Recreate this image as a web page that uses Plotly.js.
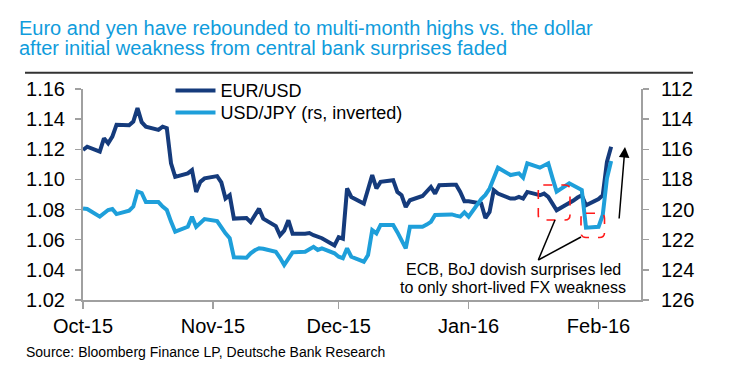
<!DOCTYPE html>
<html>
<head>
<meta charset="utf-8">
<script src="https://cdn.plot.ly/plotly-3.0.1.min.js"></script>
<style>
html,body{margin:0;padding:0;background:#fff;}
#chart{width:739px;height:384px;}
</style>
</head>
<body>
<div id="chart"></div>
<script>
// ---- Data ----
var eurDates = ['2015-10-01','2015-10-02','2015-10-05','2015-10-06','2015-10-07','2015-10-08','2015-10-09','2015-10-12','2015-10-13','2015-10-14','2015-10-15','2015-10-16','2015-10-19','2015-10-20','2015-10-21','2015-10-22','2015-10-23','2015-10-26','2015-10-27','2015-10-28','2015-10-29','2015-10-30',
'2015-11-02','2015-11-03','2015-11-04','2015-11-05','2015-11-06','2015-11-09','2015-11-10','2015-11-11','2015-11-12','2015-11-13','2015-11-16','2015-11-17','2015-11-18','2015-11-19','2015-11-20','2015-11-23','2015-11-24','2015-11-25','2015-11-26','2015-11-27','2015-11-30',
'2015-12-01','2015-12-02','2015-12-03','2015-12-04','2015-12-07','2015-12-09','2015-12-10','2015-12-11','2015-12-14','2015-12-15','2015-12-16','2015-12-17','2015-12-18','2015-12-21','2015-12-22','2015-12-23','2015-12-24','2015-12-25','2015-12-28','2015-12-29','2015-12-30','2015-12-31',
'2016-01-01','2016-01-04','2016-01-05','2016-01-06','2016-01-07','2016-01-08','2016-01-11','2016-01-12','2016-01-13','2016-01-14','2016-01-15','2016-01-18','2016-01-19','2016-01-20','2016-01-22','2016-01-25','2016-01-26','2016-01-27','2016-01-28','2016-01-29',
'2016-02-01','2016-02-02','2016-02-03','2016-02-04'];
var eurValues = [1.1195,1.1217,1.1184,1.1273,1.1240,1.1284,1.1362,1.1360,1.1384,1.1473,1.1380,1.1350,1.1329,1.1350,1.1340,1.1107,1.1017,1.1040,1.1062,1.0917,1.0984,1.1007,
1.1022,1.0980,1.0873,1.0895,1.0740,1.0744,1.0717,1.0760,1.0806,1.0740,1.0690,1.0629,1.0660,1.0729,1.0640,1.0640,1.0644,1.0630,1.0620,1.0610,1.0562,
1.0617,1.0607,1.0940,1.0884,1.0840,1.1029,1.0940,1.0984,1.0995,1.0917,1.0895,1.0817,1.0862,1.0890,1.0917,1.0950,1.0906,1.0962,1.0965,1.0965,1.0917,1.0855,
1.0855,1.0840,1.0744,1.0784,1.0929,1.0906,1.0873,1.0873,1.0884,1.0873,1.0917,1.0895,1.0906,1.0884,1.0795,1.0840,1.0860,1.0880,1.0895,1.0829,
1.0870,1.0895,1.1117,1.1217];

var jpyDates = ['2015-10-01','2015-10-02','2015-10-05','2015-10-07','2015-10-08','2015-10-09','2015-10-12','2015-10-13','2015-10-14','2015-10-15','2015-10-16','2015-10-19','2015-10-20','2015-10-21','2015-10-22','2015-10-23','2015-10-26','2015-10-27','2015-10-28','2015-10-30',
'2015-11-02','2015-11-03','2015-11-04','2015-11-05','2015-11-06','2015-11-09','2015-11-10','2015-11-11','2015-11-12','2015-11-13','2015-11-16','2015-11-17','2015-11-18','2015-11-20','2015-11-23','2015-11-25','2015-11-26','2015-11-27','2015-11-30',
'2015-12-01','2015-12-02','2015-12-03','2015-12-04','2015-12-07','2015-12-08','2015-12-09','2015-12-10','2015-12-11','2015-12-14','2015-12-15','2015-12-16','2015-12-17','2015-12-18','2015-12-21','2015-12-22','2015-12-23','2015-12-24','2015-12-25','2015-12-28','2015-12-29','2015-12-30','2015-12-31',
'2016-01-01','2016-01-04','2016-01-05','2016-01-06','2016-01-07','2016-01-08','2016-01-11','2016-01-12','2016-01-13','2016-01-14','2016-01-15','2016-01-18','2016-01-19','2016-01-20','2016-01-21','2016-01-22','2016-01-25','2016-01-26','2016-01-27','2016-01-28','2016-01-29',
'2016-02-01','2016-02-02','2016-02-03','2016-02-04'];
var jpyValues = [119.92,119.96,120.47,120.03,119.96,120.30,120.08,119.80,118.80,118.90,119.50,119.50,119.80,120.03,120.80,121.47,121.14,120.47,121.14,120.63,
120.76,121.20,121.58,121.90,123.17,123.20,122.90,122.70,122.57,122.60,122.80,123.20,123.68,122.84,122.80,122.47,122.68,122.57,122.90,
123.13,123.23,122.57,123.13,123.46,123.02,121.36,121.58,121.02,121.02,121.50,122.10,122.57,121.14,121.14,121.00,120.81,120.36,120.36,120.32,120.40,120.47,120.18,
120.47,119.30,119.03,118.60,117.90,117.22,117.71,117.65,117.60,117.88,116.93,117.22,117.10,116.93,117.90,118.81,118.26,118.40,118.60,118.70,121.20,
121.14,120.36,117.93,116.78];

var tickDates = ['2015-10-01','2015-11-01','2015-12-01','2016-01-01','2016-02-01'];
var tickLabels = ['Oct-15','Nov-15','Dec-15','Jan-16','Feb-16'];
var seriesNames = ['EUR/USD','USD/JPY (rs, inverted)'];
var titleLines = ['Euro and yen have rebounded to multi-month highs vs. the dollar',
                  'after initial weakness from central bank surprises faded'];
var noteLines = ['ECB, BoJ dovish surprises led','to only short-lived FX weakness'];
var sourceText = 'Source: Bloomberg Finance LP, Deutsche Bank Research';

// ---- Styling ----
var NAVY = '#153B7C', LIGHT = '#1E9FDA', AXIS = '#A0A0A0';
var FONT = '"Liberation Sans", Arial, sans-serif';
var NARROW = '"Liberation Sans Narrow", "Arial Narrow", "Liberation Sans", Arial, sans-serif';

function roundRect(x0, y0, x1, y1, rx, ry) {
  return 'M' + (x0 + rx) + ',' + y1 +
    ' L' + (x1 - rx) + ',' + y1 + ' Q' + x1 + ',' + y1 + ' ' + x1 + ',' + (y1 - ry) +
    ' L' + x1 + ',' + (y0 + ry) + ' Q' + x1 + ',' + y0 + ' ' + (x1 - rx) + ',' + y0 +
    ' L' + (x0 + rx) + ',' + y0 + ' Q' + x0 + ',' + y0 + ' ' + x0 + ',' + (y0 + ry) +
    ' L' + x0 + ',' + (y1 - ry) + ' Q' + x0 + ',' + y1 + ' ' + (x0 + rx) + ',' + y1 + ' Z';
}
var RX = 5 / 558, RY = 5 / 211;

var traces = [
  {x: eurDates, y: eurValues, name: seriesNames[0], type: 'scatter', mode: 'lines',
   line: {color: NAVY, width: 4}, yaxis: 'y', legend: 'legend'},
  {x: jpyDates, y: jpyValues, name: seriesNames[1], type: 'scatter', mode: 'lines',
   line: {color: LIGHT, width: 4}, yaxis: 'y2', legend: 'legend2'}
];

var legendBase = {xanchor: 'left', yanchor: 'top', bgcolor: 'rgba(0,0,0,0)',
  font: {family: FONT, size: 18, color: '#000'}, itemwidth: 40};

var layout = {
  width: 739, height: 384,
  margin: {l: 83, r: 98, t: 89, b: 84, pad: 0},
  paper_bgcolor: '#fff', plot_bgcolor: '#fff',
  font: {family: FONT, color: '#000'},
  showlegend: true,
  legend: Object.assign({}, legendBase, {x: 0.1568, y: (300 - 72.2) / 211}),
  legend2: Object.assign({}, legendBase, {x: 0.1568, y: (300 - 94.2) / 211}),
  xaxis: {type: 'date', range: ['2015-10-01', '2016-02-11 03:00'],
          tickmode: 'array', tickvals: tickDates, ticktext: tickLabels,
          ticks: 'outside', ticklen: 7, tickwidth: 1.5, tickcolor: AXIS,
          showline: true, linecolor: AXIS, linewidth: 2, showgrid: false, zeroline: false,
          tickfont: {family: FONT, size: 20, color: '#000'}, ticklabelstandoff: 0},
  yaxis: {range: [1.02, 1.16], dtick: 0.02, tick0: 1.02, tickformat: '.2f',
          ticks: 'outside', ticklen: 6, tickwidth: 1.5, tickcolor: AXIS,
          showline: true, linecolor: AXIS, linewidth: 2, showgrid: false, zeroline: false,
          tickfont: {family: FONT, size: 20, color: '#000'}, ticklabelstandoff: 6},
  yaxis2: {range: [126, 112], dtick: 2, tick0: 112, overlaying: 'y', side: 'right',
           ticks: 'outside', ticklen: 6, tickwidth: 1.5, tickcolor: AXIS,
           showline: true, linecolor: AXIS, linewidth: 2, showgrid: false, zeroline: false,
           tickfont: {family: FONT, size: 20, color: '#000'}, ticklabelstandoff: 8},
  shapes: [
    {type: 'line', xref: 'paper', yref: 'paper', x0: (25 - 83) / 558, x1: (693 - 83) / 558,
     y0: (300 - 72.7) / 211, y1: (300 - 72.7) / 211, line: {color: '#333', width: 2}},
    {type: 'path', xref: 'paper', yref: 'paper',
     path: roundRect((538.3 - 83) / 558, (300 - 220) / 211, (570 - 83) / 558, (300 - 185) / 211, RX, RY),
     line: {color: '#FF1A1A', width: 1.6, dash: 'dash'}},
    {type: 'path', xref: 'paper', yref: 'paper',
     path: roundRect((581 - 83) / 558, (300 - 237.5) / 211, (604.5 - 83) / 558, (300 - 213.3) / 211, RX, RY),
     line: {color: '#FF1A1A', width: 1.6, dash: 'dash'}},
    {type: 'line', xref: 'paper', yref: 'paper', x0: (538.3 - 83) / 558, y0: (300 - 260) / 211,
     x1: (555 - 83) / 558, y1: (300 - 220) / 211, line: {color: '#000', width: 1.5}},
    {type: 'line', xref: 'paper', yref: 'paper', x0: (538.3 - 83) / 558, y0: (300 - 260) / 211,
     x1: (581 - 83) / 558, y1: (300 - 237) / 211, line: {color: '#000', width: 1.5}}
  ],
  annotations: [
    {xref: 'paper', yref: 'paper', x: (17 - 83) / 558, y: (300 - 28) / 211, xanchor: 'left', yanchor: 'middle',
     text: titleLines[0], showarrow: false, font: {family: NARROW, size: 20, color: '#109CDC'}},
    {xref: 'paper', yref: 'paper', x: (17 - 83) / 558, y: (300 - 48) / 211, xanchor: 'left', yanchor: 'middle',
     text: titleLines[1], showarrow: false, font: {family: NARROW, size: 20, color: '#109CDC'}},
    {xref: 'paper', yref: 'paper', x: (513.3 - 83) / 558, y: (300 - 269) / 211, xanchor: 'center', yanchor: 'middle',
     text: noteLines[0], showarrow: false, font: {family: FONT, size: 16, color: '#000'}},
    {xref: 'paper', yref: 'paper', x: (513.3 - 83) / 558, y: (300 - 287) / 211, xanchor: 'center', yanchor: 'middle',
     text: noteLines[1], showarrow: false, font: {family: FONT, size: 16, color: '#000'}},
    {xref: 'paper', yref: 'paper', x: (24 - 83) / 558, y: (300 - 352) / 211, xanchor: 'left', yanchor: 'middle',
     text: sourceText, showarrow: false, font: {family: FONT, size: 14, color: '#000'}},
    {xref: 'paper', yref: 'paper', x: (625 - 83) / 558, y: (300 - 147) / 211, text: '',
     showarrow: true, ax: -6, ay: 73, arrowhead: 2, arrowsize: 1.4, arrowwidth: 1.5, arrowcolor: '#000'}
  ]
};

Plotly.newPlot('chart', traces, layout, {displayModeBar: false, staticPlot: true});
</script>
</body>
</html>
